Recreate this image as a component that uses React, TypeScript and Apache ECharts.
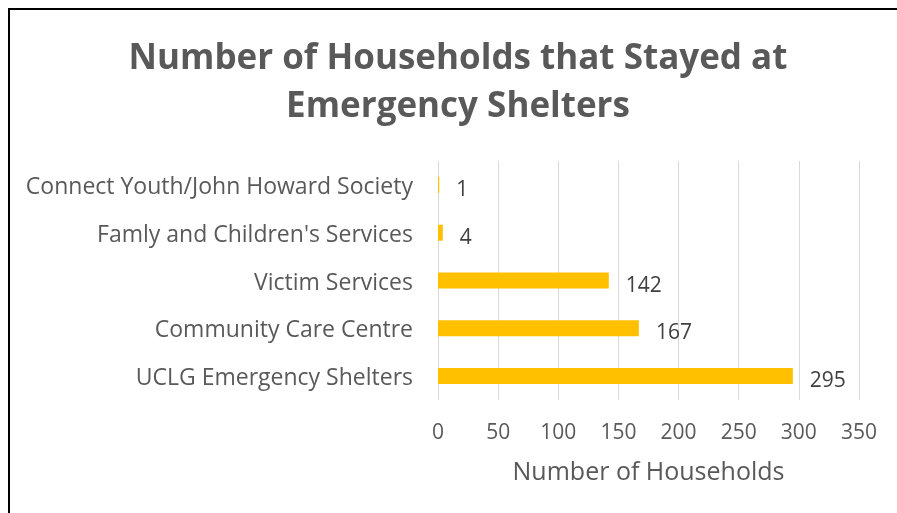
import React, { useEffect, useRef } from "react";
import * as echarts from "echarts";

const categories = [
  "Connect Youth/John Howard Society",
  "Famly and Children's Services",
  "Victim Services",
  "Community Care Centre",
  "UCLG Emergency Shelters",
];
const households = [1, 4, 142, 167, 295];
const xTicks = { min: 0, max: 350, interval: 50 };
const titleText = "Number of Households that Stayed at\nEmergency Shelters";
const xAxisName = "Number of Households";

const FONT = "'Open Sans', 'Noto Sans', sans-serif";

export default function App() {
  const ref = useRef<HTMLDivElement>(null);
  useEffect(() => {
    if (!ref.current) return;
    const chart = echarts.init(ref.current, undefined, { renderer: "svg" });
    chart.setOption({
      animation: false,
      title: {
        text: titleText,
        left: "center",
        top: 16,
        textStyle: {
          fontFamily: FONT,
          fontSize: 35,
          fontWeight: "bold",
          color: "#595959",
          lineHeight: 48,
        },
      },
      grid: { left: 428, top: 151, width: 421, height: 239 },
      xAxis: {
        type: "value",
        min: xTicks.min,
        max: xTicks.max,
        interval: xTicks.interval,
        name: xAxisName,
        nameLocation: "middle",
        nameGap: 57,
        nameTextStyle: { fontFamily: FONT, fontSize: 25, color: "#595959" },
        axisLine: { show: false },
        axisTick: { show: false },
        axisLabel: { fontFamily: FONT, fontSize: 21, color: "#595959", margin: 20 },
        splitLine: { lineStyle: { color: "#d9d9d9", width: 1 } },
      },
      yAxis: {
        type: "category",
        inverse: true,
        data: categories,
        axisLine: { show: false },
        axisTick: { show: false },
        axisLabel: { fontFamily: FONT, fontSize: 23, color: "#595959", margin: 25 },
      },
      series: [
        {
          type: "bar",
          data: households,
          barWidth: 16,
          itemStyle: { color: "#FFC000" },
          label: {
            show: true,
            position: "right",
            distance: 17,
            offset: [0, 3],
            fontFamily: FONT,
            fontSize: 21,
            color: "#404040",
          },
        },
      ],
    });
    return () => chart.dispose();
  }, []);
  return (
    <div
      style={{
        position: "fixed",
        left: 8,
        top: 8,
        border: "2px solid #000",
        width: 900,
        height: 520,
      }}
    >
      <div ref={ref} style={{ width: 896, height: 520 }} />
    </div>
  );
}
